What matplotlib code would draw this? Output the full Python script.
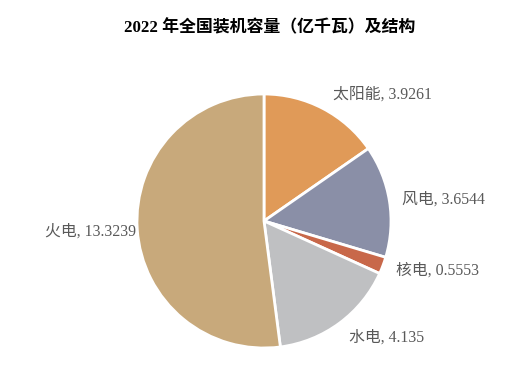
import matplotlib
matplotlib.use("Agg")
import matplotlib.pyplot as plt

# 2022 installed capacity (100 million kW)
categories = ["太阳能", "风电", "核电", "水电", "火电"]
values = [3.9261, 3.6544, 0.5553, 4.135, 13.3239]
value_labels = ["3.9261", "3.6544", "0.5553", "4.135", "13.3239"]
colors = ["#E09A58", "#8A8FA7", "#C8684A", "#BFC0C2", "#C8A97B"]

title = "2022 年全国装机容量（亿千瓦）及结构"

W, H = 514, 377
fig = plt.figure(figsize=(W / 100, H / 100), dpi=100)
ax = fig.add_axes([0, 0, 1, 1])
ax.set_xlim(0, W)
ax.set_ylim(0, H)
ax.set_aspect("equal")

cx, cy, r = 264, H - 221, 127
ax.pie(values, colors=colors, startangle=90, counterclock=False,
       center=(cx, cy), radius=r, frame=True,
       wedgeprops=dict(edgecolor="white", linewidth=2))
ax.axis("off")

# label placement (pixel coords from top-left)
label_pos = [(333, 95, "left"), (402, 200, "left"), (396, 271, "left"),
             (349, 338, "left"), (136, 232, "right")]
fam = ["Liberation Serif", "Noto Sans CJK SC"]
for cat, val, (x, y, ha) in zip(categories, value_labels, label_pos):
    ax.text(x, H - y, f"{cat}, {val}", ha=ha, va="center", fontsize=11.4,
            color="#595959", family=fam)

ax.text(W / 2 + 13, H - 28, title, ha="center", va="center", fontsize=12.2,
        fontweight="bold", color="black", family=fam)

fig.savefig("out.png", dpi=100)
